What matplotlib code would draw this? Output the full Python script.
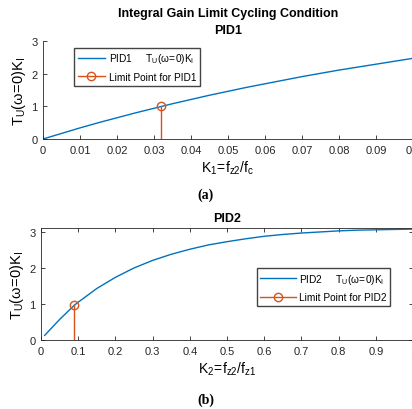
import numpy as np
import matplotlib.pyplot as plt
from matplotlib.lines import Line2D
from matplotlib.legend_handler import HandlerLine2D

plt.rcParams['font.family'] = ['Liberation Sans', 'DejaVu Sans']
plt.rcParams['mathtext.fontset'] = 'custom'
plt.rcParams['mathtext.rm'] = 'Liberation Sans'
plt.rcParams['mathtext.it'] = 'Liberation Sans'

# PID1 curve: K1 vs T_U(w=0)K_I
k1 = [0.0, 0.005, 0.01, 0.015, 0.02, 0.025, 0.03, 0.035, 0.04, 0.045, 0.05,
      0.055, 0.06, 0.065, 0.07, 0.075, 0.08, 0.085, 0.09, 0.095, 0.1]
t1 = [0.0, 0.17, 0.34, 0.50, 0.65, 0.80, 0.94, 1.08, 1.21, 1.34, 1.46,
      1.58, 1.69, 1.80, 1.91, 2.01, 2.11, 2.20, 2.29, 2.38, 2.47]
lim1 = (0.032, 1.0)

# PID2 curve: K2 vs T_U(w=0)K_I
k2 = [0.01, 0.05, 0.09, 0.1, 0.15, 0.2, 0.25, 0.3, 0.35, 0.4, 0.45, 0.5,
      0.55, 0.6, 0.65, 0.7, 0.75, 0.8, 0.85, 0.9, 0.95, 1.0]
t2 = [0.13, 0.57, 0.97, 1.05, 1.43, 1.74, 2.0, 2.21, 2.38, 2.52, 2.64, 2.73,
      2.81, 2.88, 2.93, 2.97, 3.0, 3.03, 3.05, 3.06, 3.07, 3.08]
lim2 = (0.09, 0.97)

blue = '#0072BD'
orange = '#D95319'
lab = r'$\mathregular{T_U(\omega\!=\!0)K_I}$'


class StemHandler(HandlerLine2D):
    # matlab style stem legend: marker at the right end of the line
    def get_xdata(self, legend, xdescent, ydescent, width, height, fontsize):
        xdata = np.array([-xdescent, -xdescent + width])
        xmark = np.array([-xdescent + width])
        return xdata, xmark


def panel(ax, x, y, lim, name):
    ax.plot(x, y, color=blue, lw=1.0)
    ax.plot([lim[0], lim[0]], [0, lim[1]], color=orange, lw=1.0)
    ax.plot([lim[0]], [lim[1]], 'o', color=orange, mfc='none', ms=6, mew=1.0)
    h1 = Line2D([], [], color=blue, lw=1.0)
    h2 = Line2D([], [], color=orange, lw=1.0, marker='o', mfc='none',
                ms=6, mew=1.0)
    return [h1, h2], [name + '     ' + lab, 'Limit Point for ' + name]


fig = plt.figure(figsize=(4.12, 4.10), dpi=100)

# top panel
ax1 = fig.add_axes([43 / 412, 1 - 140 / 410, 370 / 412, 98 / 410])
hs, ls = panel(ax1, k1, t1, lim1, 'PID1')
ax1.set_xlim(0, 0.1)
ax1.set_ylim(0, 3)
ax1.set_xticks(np.arange(0, 0.101, 0.01))
ax1.set_xticklabels(['0', '0.01', '0.02', '0.03', '0.04', '0.05', '0.06',
                     '0.07', '0.08', '0.09', '0.1'])
ax1.set_yticks([0, 1, 2, 3])
ax1.spines['top'].set_visible(False)
ax1.spines['right'].set_visible(False)
ax1.set_xlabel(r'$\mathregular{K_1\!=\!f_{z2}/f_c}$', fontsize=10, labelpad=3)
ax1.set_ylabel(lab, fontsize=10.5, labelpad=2)
ax1.set_title('Integral Gain Limit Cycling Condition\nPID1', fontsize=9,
              fontweight='bold', pad=6, linespacing=1.5)
ax1.legend(hs, ls, loc='upper left', bbox_to_anchor=(0.084, 0.93),
           fontsize=7.3, fancybox=False, edgecolor='#444444', framealpha=1,
           handlelength=2.7, borderpad=0.35, labelspacing=0.65,
           handletextpad=0.35, borderaxespad=0,
           handler_map={hs[1]: StemHandler(numpoints=1)})

# bottom panel
ax2 = fig.add_axes([41 / 412, 1 - 341 / 410, 372 / 412, 112 / 410])
hs, ls = panel(ax2, k2, t2, lim2, 'PID2')
ax2.set_xlim(0, 1)
ax2.set_ylim(0, 3.11)
ax2.set_xticks(np.arange(0, 1.01, 0.1))
ax2.set_xticklabels(['0', '0.1', '0.2', '0.3', '0.4', '0.5', '0.6', '0.7',
                     '0.8', '0.9', '1'])
ax2.set_yticks([0, 1, 2, 3])
ax2.tick_params(top=True, right=True)
ax2.set_xlabel(r'$\mathregular{K_2\!=\!f_{z2}/f_{z1}}$', fontsize=10, labelpad=3)
ax2.set_ylabel(lab, fontsize=10.5, labelpad=2)
ax2.set_title('PID2', fontsize=9, fontweight='bold', pad=5)
ax2.legend(hs, ls, loc='upper left', bbox_to_anchor=(0.58, 0.643),
           fontsize=7.3, fancybox=False, edgecolor='#444444', framealpha=1,
           handlelength=3.5, borderpad=0.35, labelspacing=0.65,
           handletextpad=0.35, borderaxespad=0,
           handler_map={hs[1]: StemHandler(numpoints=1)})

for ax in (ax1, ax2):
    ax.tick_params(labelsize=8, direction='in', length=3, width=0.6,
                   colors='#262626', pad=4)
    for s in ax.spines.values():
        s.set_linewidth(0.6)
        s.set_color('#262626')

fig.text(0.5, 1 - 195 / 410, '(a)', ha='center', va='center', fontsize=10,
         fontweight='bold', family='Liberation Serif')
fig.text(0.5, 1 - 400 / 410, '(b)', ha='center', va='center', fontsize=10,
         fontweight='bold', family='Liberation Serif')

fig.savefig('out.png', dpi=100)
